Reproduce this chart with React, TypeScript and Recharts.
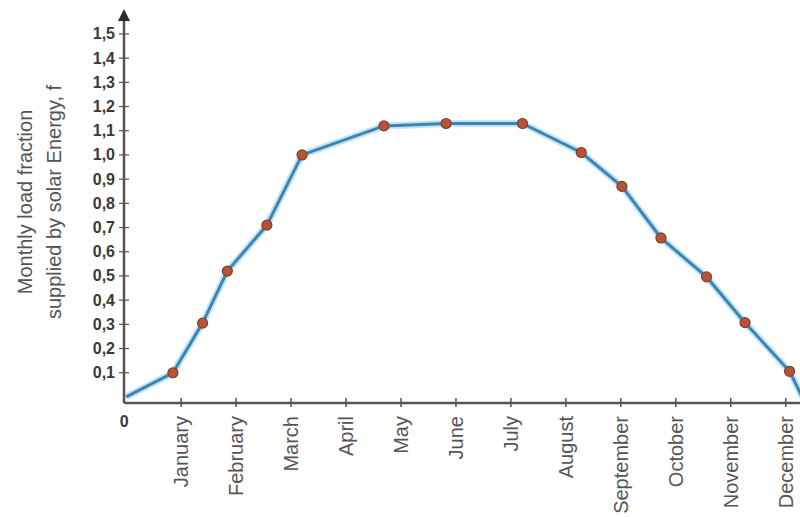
import React from "react";
import { LineChart, Line, XAxis, YAxis } from "recharts";

const monthLabels = ["January", "February", "March", "April", "May", "June", "July", "August", "September", "October", "November", "December"];
const monthTicks = [0, 1, 2, 3, 4, 5, 6, 7, 8, 9, 10, 11, 12];
const yTicks = [0.1, 0.2, 0.3, 0.4, 0.5, 0.6, 0.7, 0.8, 0.9, 1.0, 1.1, 1.2, 1.3, 1.4, 1.5];
const monthPos = [0, 0.85, 1.39, 1.84, 2.56, 3.2, 4.69, 5.82, 7.21, 8.28, 9.02, 9.73, 10.56, 11.26, 12.07, 12.3];
const fraction = [0, 0.1, 0.305, 0.52, 0.71, 1.0, 1.12, 1.13, 1.13, 1.01, 0.87, 0.657, 0.496, 0.307, 0.106, 0];
const titleLines = ["Monthly load fraction", "supplied by solar Energy, f"];

const data = monthPos.map((m, i) => ({ m, f: fraction[i], marker: i > 0 && i < monthPos.length - 1 }));

const AXIS = "#5a5252";
const FONT = "'Liberation Sans', Arial, sans-serif";

const XTick = (props: any) => {
  const { x, y, payload } = props;
  const v = payload.value;
  if (v === 0) {
    return (
      <text x={x - 2} y={y + 16} textAnchor="middle" fontFamily={FONT} fontSize={16} fontWeight="bold" fill="#3a3a3a">
        0
      </text>
    );
  }
  return (
    <g>
      <line x1={x} x2={x} y1={y - 13} y2={y - 4} stroke={AXIS} strokeWidth={1.5} />
      <text
        x={x + 7}
        y={y + 5}
        transform={`rotate(-90, ${x + 7}, ${y + 5})`}
        textAnchor="end"
        fontFamily={FONT}
        fontSize={20}
        fill="#555"
      >
        {monthLabels[v - 1]}
      </text>
    </g>
  );
};

const YTick = (props: any) => {
  const { x, y, payload } = props;
  const label = Number(payload.value).toFixed(1).replace(".", ",");
  return (
    <g>
      <line x1={x + 3} x2={x + 13} y1={y} y2={y} stroke={AXIS} strokeWidth={1.2} />
      <text x={x - 1} y={y + 5.5} textAnchor="end" fontFamily={FONT} fontSize={16} fontWeight="bold" fill="#3a3a3a">
        {label}
      </text>
    </g>
  );
};

const YTitle = (props: any) => {
  const vb = props.viewBox || {};
  const ax = vb.x + vb.width;
  const top = vb.y;
  const cy = vb.y + vb.height / 2 - 8;
  return (
    <g>
      <polygon points={`${ax - 6},${top + 4} ${ax + 6},${top + 4} ${ax},${top - 8}`} fill="#2e2a2a" />
      {titleLines.map((t, i) => {
        const tx = 32 + i * 29;
        return (
          <text
            key={i}
            x={tx}
            y={cy}
            transform={`rotate(-90, ${tx}, ${cy})`}
            textAnchor="middle"
            fontFamily={FONT}
            fontSize={20}
            fill="#555"
          >
            {t}
          </text>
        );
      })}
    </g>
  );
};

const Marker = (props: any) => {
  const { cx, cy, payload, index } = props;
  if (!payload || !payload.marker) return <g key={index} />;
  return <circle key={index} cx={cx} cy={cy} r={5} fill="#b4553a" stroke="#873b28" strokeWidth={1.2} />;
};

export default function App() {
  return (
    <div style={{ position: "absolute", left: 0, top: 0, width: 800, height: 517, background: "#fff" }}>
      <LineChart width={800} height={517} data={data} margin={{ top: 17, right: 0, bottom: 0, left: 0 }}>
        <XAxis
          dataKey="m"
          type="number"
          domain={[-0.04, 12.26]}
          allowDataOverflow
          ticks={monthTicks}
          interval={0}
          height={114}
          tickLine={false}
          tickSize={0}
          tickMargin={8}
          axisLine={{ stroke: AXIS, strokeWidth: 2.5 }}
          tick={<XTick />}
        />
        <YAxis
          type="number"
          domain={[-0.025, 1.57]}
          allowDataOverflow
          ticks={yTicks}
          interval={0}
          width={124}
          tickLine={false}
          tickSize={0}
          tickMargin={8}
          axisLine={{ stroke: AXIS, strokeWidth: 2.5 }}
          tick={<YTick />}
          label={{ content: <YTitle /> } as any}
        />
        <Line dataKey="f" type="linear" stroke="#b3def5" strokeWidth={7} strokeOpacity={0.8} dot={false} activeDot={false} isAnimationActive={false} />
        <Line dataKey="f" type="linear" stroke="#3d84b3" strokeWidth={3} dot={<Marker />} activeDot={false} isAnimationActive={false} />
      </LineChart>
    </div>
  );
}
